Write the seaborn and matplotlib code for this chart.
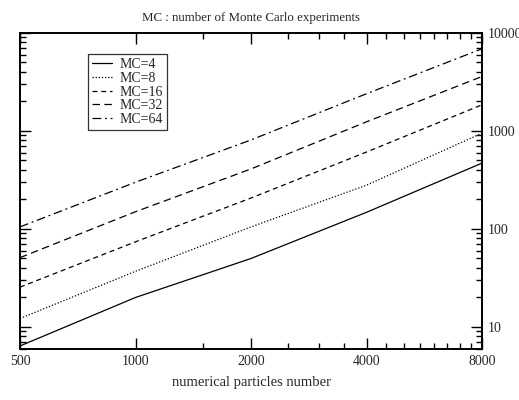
import numpy as np
import pandas as pd
import seaborn as sns
import matplotlib
matplotlib.use("Agg")
import matplotlib.pyplot as plt
from matplotlib.ticker import FixedLocator, FixedFormatter, NullFormatter, LogLocator
from matplotlib.lines import Line2D

particles = [500, 1000, 2000, 4000, 8000]
mc_labels = ["MC=4", "MC=8", "MC=16", "MC=32", "MC=64"]
mc4 = [6.4, 20, 50, 148, 470]
mc8 = [12.2, 37, 105, 280, 950]
mc16 = [25.5, 74, 207, 610, 1850]
mc32 = [51, 150, 410, 1240, 3600]
mc64 = [105, 300, 810, 2400, 6900]
x_ticks = [500, 1000, 2000, 4000, 8000]
x_tick_labels = ["500", "1000", "2000", "4000", "8000"]
y_ticks = [10, 100, 1000, 10000]
y_tick_labels = ["10", "100", "1000", "10000"]

series = [mc4, mc8, mc16, mc32, mc64]
df = pd.DataFrame({
    "N": particles * len(series),
    "time": sum(series, []),
    "MC": [lab for lab in mc_labels for _ in particles],
})

sns.set_style("ticks")
plt.rcParams["font.family"] = ["Liberation Serif", "DejaVu Serif"]

fig = plt.figure(figsize=(5.19, 4.00), dpi=100)
ax = fig.add_axes([20/519, 1-349/400, 462/519, 316/400])

dash_styles = ["", (1, 1.5), (4, 3), (6, 3.5), (7, 3, 1.5, 3)]
sns.lineplot(data=df, x="N", y="time", hue="MC", style="MC",
             palette=["black"]*5, dashes=dash_styles, linewidth=0.9,
             ax=ax, legend=False, sort=True)

ax.set_xscale("log", base=2)
ax.set_yscale("log")
ax.set_xlim(500, 8000)
ax.set_ylim(5.96, 10000)

ax.xaxis.set_major_locator(FixedLocator(x_ticks))
ax.xaxis.set_major_formatter(FixedFormatter(x_tick_labels))
minors = [m for m in range(1500, 8000, 500) if m not in x_ticks]
ax.xaxis.set_minor_locator(FixedLocator(minors))
ax.xaxis.set_minor_formatter(NullFormatter())

ax.yaxis.set_major_locator(FixedLocator(y_ticks))
ax.yaxis.set_major_formatter(FixedFormatter(y_tick_labels))
ax.yaxis.set_minor_locator(LogLocator(base=10, subs=np.arange(2, 10), numticks=20))
ax.yaxis.set_minor_formatter(NullFormatter())

ax.tick_params(which="both", direction="in", top=True, bottom=True, left=True, right=True,
               labelleft=False, labelright=True, labelbottom=True, labeltop=False,
               labelsize=10, width=1, color="black", pad=4)
ax.tick_params(which="major", length=8)
ax.tick_params(which="minor", length=4)
for s in ax.spines.values():
    s.set_linewidth(1.4)
    s.set_color("black")

ax.set_xlabel("numerical particles number", fontsize=10.5, labelpad=6)
ax.set_ylabel("")
ax.set_title("MC : number of Monte Carlo experiments", fontsize=9.3, pad=9)

handles = [Line2D([0], [0], color="black", lw=0.9,
                  linestyle=("-" if d == "" else (0, d))) for d in dash_styles]
leg = ax.legend(handles, mc_labels, loc="upper left", bbox_to_anchor=(68/462, 1-21/316),
                frameon=True, fancybox=False, edgecolor="black", fontsize=10,
                handlelength=1.4, handletextpad=0.6, borderpad=0.3, labelspacing=0.05,
                borderaxespad=0)
leg.get_frame().set_linewidth(0.9)

fig.savefig("out.png", dpi=100)
